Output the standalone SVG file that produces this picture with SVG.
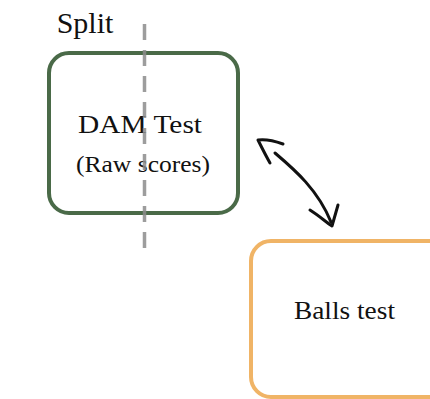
<svg xmlns="http://www.w3.org/2000/svg" width="430" height="399" viewBox="0 0 430 399">
  <style>
    .label { font-family: "Liberation Serif", "Times New Roman", serif; fill: #111111; text-anchor: middle; }
    .box { fill: #ffffff; stroke-width: 4; }
    .link { fill: none; stroke: #111111; stroke-width: 3; stroke-linecap: round; stroke-linejoin: round; }
  </style>
  <rect width="430" height="399" fill="#ffffff"/>

  <text class="label" x="85" y="33" font-size="30">Split</text>

  <g id="dam-test">
    <rect class="box" x="49" y="53" width="189" height="160" rx="20" stroke="#4a6a48"/>
    <text class="label" x="140" y="133" font-size="26" textLength="124" lengthAdjust="spacingAndGlyphs">DAM Test</text>
    <text class="label" x="143" y="172" font-size="24" textLength="134" lengthAdjust="spacingAndGlyphs">(Raw scores)</text>
  </g>

  <g id="balls-test">
    <rect class="box" x="251" y="241" width="200" height="156" rx="20" stroke="#f0b466"/>
    <text class="label" x="344.5" y="319" font-size="26" textLength="101" lengthAdjust="spacingAndGlyphs">Balls test</text>
  </g>

  <g id="split-line">
    <line x1="144.5" y1="24" x2="144.5" y2="248" stroke="#8c8c8c" stroke-opacity="0.85" stroke-width="3.5" stroke-dasharray="16,10"/>
  </g>

  <g id="connectors">
    <path class="link" d="M275,153 C295,170 318,190 331,222"/>
    <path class="link" d="M283,144 C272,140 265,139 258,140 C262,148 266,156 270,163"/>
    <path class="link" d="M310,210 C318,215 326,222 332,226 C334,219 336,212 338,205"/>
  </g>
</svg>
